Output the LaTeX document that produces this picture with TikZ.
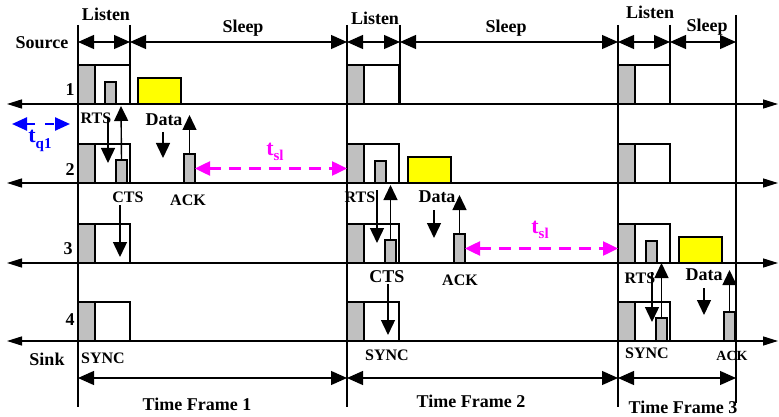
\documentclass[tikz,border=0pt]{standalone}
\usepackage{fontspec}
\setmainfont{Liberation Serif}
\usetikzlibrary{arrows.meta}
\definecolor{boxgrey}{RGB}{192,192,192}
\definecolor{pmag}{RGB}{255,0,255}
\definecolor{pblue}{RGB}{0,0,255}
\definecolor{pyel}{RGB}{255,255,0}
\begin{document}
\begin{tikzpicture}[x=1pt,y=-1pt,
  lbl/.style={font=\bfseries\fontsize{18}{20}\selectfont, inner sep=0pt},
  slbl/.style={font=\bfseries\fontsize{16}{18}\selectfont, inner sep=0pt},
  tlbl/.style={font=\bfseries\fontsize{22}{24}\selectfont, inner sep=0pt},
  vline/.style={line width=1.2pt},
  tline/.style={line width=1.4pt, {Triangle[length=15pt,width=9pt]}-{Triangle[length=15pt,width=9pt]}},
  dim/.style={line width=1.2pt, {Triangle[length=16pt,width=14pt]}-{Triangle[length=16pt,width=14pt]}},
  sig/.style={line width=1.4pt, -{Triangle[length=15pt,width=14pt]}},
  bx/.style={draw, line width=1.4pt, anchor=south west, inner sep=0pt, outer sep=0pt},
  syncbox/.style={bx, fill=boxgrey, minimum width=17pt, minimum height=39pt},
  lisbox/.style={bx, fill=white, minimum width=52pt, minimum height=39pt},
  rtsbox/.style={bx, fill=boxgrey, minimum width=11pt, minimum height=22pt},
  ctsbox/.style={bx, fill=boxgrey, minimum width=11pt, minimum height=23pt},
  ackbox/.style={bx, fill=boxgrey, minimum width=11pt, minimum height=29pt},
  databox/.style={bx, fill=pyel, minimum width=43pt, minimum height=26pt},
  tsl/.style={pmag, line width=2.5pt, dash pattern=on 12pt off 8pt, {Triangle[length=15pt,width=14pt]}-{Triangle[length=15pt,width=14pt]}},
  tq/.style={pblue, line width=2.5pt, dash pattern=on 9pt off 10pt, {Triangle[length=15pt,width=13pt]}-{Triangle[length=15pt,width=13pt]}}
]
\useasboundingbox (0,0) rectangle (779,417);

% frame boundary lines
\coordinate (fa1) at (78,25);  \coordinate (fb1) at (78,407);
\coordinate (fa2) at (347,25); \coordinate (fb2) at (347,407);
\coordinate (fa3) at (618,25); \coordinate (fb3) at (618,407);
\coordinate (fa4) at (736,15); \coordinate (fb4) at (736,403);
\draw[vline] (fa1) -- (fb1);
\draw[vline] (fa2) -- (fb2);
\draw[vline] (fa3) -- (fb3);
\draw[vline] (fa4) -- (fb4);
% listen end lines
\coordinate (la1) at (130,25); \coordinate (lb1) at (130,104);
\coordinate (la2) at (400,25); \coordinate (lb2) at (400,104);
\coordinate (la3) at (670,25); \coordinate (lb3) at (670,104);
\draw[vline] (la1) -- (lb1);
\draw[vline] (la2) -- (lb2);
\draw[vline] (la3) -- (lb3);

% top dimension arrows
\coordinate (t1) at (78,42); \coordinate (t2) at (130,42); \coordinate (t3) at (347,42);
\coordinate (t4) at (400,42); \coordinate (t5) at (618,42); \coordinate (t6) at (670,42);
\coordinate (t7) at (736,42);
\draw[dim] (t1) -- (t2);
\draw[dim] (t2) -- (t3);
\draw[dim] (t3) -- (t4);
\draw[dim] (t4) -- (t5);
\draw[dim] (t5) -- (t6);
\draw[dim] (t6) -- (t7);
\node[lbl] (lis1) at (106,14) {Listen};
\node[lbl] (slp1) at (243,28) {Sleep};
\node[lbl] (lis2) at (375,18) {Listen};
\node[lbl] (slp2) at (506,28) {Sleep};
\node[lbl] (lis3) at (650,12) {Listen};
\node[lbl] (slp3) at (707,27) {Sleep};

% bottom time frame arrows
\coordinate (b1) at (78,378); \coordinate (b2) at (347,378);
\coordinate (b3) at (618,378); \coordinate (b4) at (736,378);
\draw[dim] (b1) -- (b2);
\draw[dim] (b2) -- (b3);
\draw[dim] (b3) -- (b4);
\node[lbl] (tf1) at (197,404) {Time Frame 1};
\node[lbl] (tf2) at (471,401) {Time Frame 2};
\node[lbl] (tf3) at (683,407) {Time Frame 3};

% listen/sync boxes
\foreach \f in {78,347,618}{
  \foreach \yy/\n in {104/1,183/2,263/3,341/4}{
    \node[lisbox] (w\n-\f) at (\f,\yy) {};
    \node[syncbox] (g\n-\f) at (\f,\yy) {};
  }
}

% frame 1 packets
\node[rtsbox] (rts1) at (105,104) {};
\node[databox] (dat1) at (138,104) {};
\node[ctsbox] (cts1) at (116,183) {};
\node[ackbox] (ack1) at (184,183) {};
% frame 2 packets
\node[rtsbox] (rts2) at (375,183) {};
\node[databox] (dat2) at (408,183) {};
\node[ctsbox] (cts2) at (385,263) {};
\node[ackbox] (ack2) at (454,263) {};
% frame 3 packets
\node[rtsbox] (rts3) at (646,263) {};
\node[databox] (dat3) at (679,263) {};
\node[ctsbox] (cts3) at (656,341) {};
\node[ackbox] (ack3) at (724,341) {};

% timelines
\coordinate (l1a) at (7,104); \coordinate (l1b) at (778,104);
\coordinate (l2a) at (7,183); \coordinate (l2b) at (778,183);
\coordinate (l3a) at (7,263); \coordinate (l3b) at (778,263);
\coordinate (l4a) at (7,341); \coordinate (l4b) at (778,341);
\draw[tline] (l1a) -- (l1b);
\draw[tline] (l2a) -- (l2b);
\draw[tline] (l3a) -- (l3b);
\draw[tline] (l4a) -- (l4b);

% node labels
\node[lbl] (src) at (42,43) {Source};
\node[lbl] (n1) at (70,90) {1};
\node[lbl] (n2) at (70,170) {2};
\node[lbl] (n3) at (68,249) {3};
\node[lbl] (n4) at (70,320) {4};
\node[lbl] (snk) at (47,359) {Sink};
\node[slbl] (sy1) at (103,358) {SYNC};
\node[slbl] (sy2) at (387,355) {SYNC};
\node[slbl] (sy3) at (647,353) {SYNC};

% frame 1 signalling
\node[slbl] (rtsl1) at (96,118) {RTS};
\node[lbl] (datl1) at (164,120) {Data};
\node[slbl] (ctsl1) at (128,197) {CTS};
\node[slbl] (ackl1) at (188,200) {ACK};
\coordinate (r1s) at (108,118); \coordinate (r1e) at (108,163);
\draw[sig] (r1s) -- (r1e);
\coordinate (c1e) at (121,106);
\draw[sig] (cts1.north) -- (c1e);
\coordinate (d1s) at (163,132); \coordinate (d1e) at (163,158);
\draw[sig] (d1s) -- (d1e);
\coordinate (a1e) at (189.5,115);
\draw[sig] (ack1.north) -- (a1e);
\coordinate (cc1s) at (120,205); \coordinate (cc1e) at (120,257);
\draw[sig] (cc1s) -- (cc1e);

% frame 2 signalling
\node[slbl] (rtsl2) at (360,197) {RTS};
\node[lbl] (datl2) at (437,197) {Data};
\node[lbl] (ctsl2) at (387,277) {CTS};
\node[slbl] (ackl2) at (460,280) {ACK};
\coordinate (r2s) at (377,190); \coordinate (r2e) at (377,243);
\draw[sig] (r2s) -- (r2e);
\coordinate (c2e) at (390.5,185);
\draw[sig] (cts2.north) -- (c2e);
\coordinate (d2s) at (434,210); \coordinate (d2e) at (434,238);
\draw[sig] (d2s) -- (d2e);
\coordinate (a2e) at (459.5,195);
\draw[sig] (ack2.north) -- (a2e);
\coordinate (cc2s) at (388,284); \coordinate (cc2e) at (388,335);
\draw[sig] (cc2s) -- (cc2e);

% frame 3 signalling
\node[slbl] (rtsl3) at (640,278) {RTS};
\node[lbl] (datl3) at (704,275) {Data};
\node[font=\bfseries\fontsize{14}{16}\selectfont, inner sep=0pt] (ackl3) at (732,356) {ACK};
\coordinate (r3s) at (652,272); \coordinate (r3e) at (652,322);
\draw[sig] (r3s) -- (r3e);
\coordinate (c3e) at (661.5,263);
\draw[sig] (cts3.north) -- (c3e);
\coordinate (d3s) at (704,288); \coordinate (d3e) at (704,315);
\draw[sig] (d3s) -- (d3e);
\coordinate (a3e) at (729.5,270);
\draw[sig] (ack3.north) -- (a3e);

% sleep intervals
\draw[tsl] (ack1.east) -- (ack1.east -| g2-347.west);
\node[tlbl, pmag] (tsl1) at (275,152) {t\raisebox{-0.25em}{\fontsize{15}{15}\selectfont sl}};
\draw[tsl] (ack2.east) -- (ack2.east -| g3-618.west);
\node[tlbl, pmag] (tsl2) at (540,230) {t\raisebox{-0.25em}{\fontsize{15}{15}\selectfont sl}};
% queue interval
\coordinate (q1a) at (12,124); \coordinate (q1b) at (70,124);
\draw[tq] (q1a) -- (q1b);
\node[tlbl, pblue] (tq1) at (40,141) {t\raisebox{-0.25em}{\fontsize{15}{15}\selectfont q1}};
\end{tikzpicture}
\end{document}
